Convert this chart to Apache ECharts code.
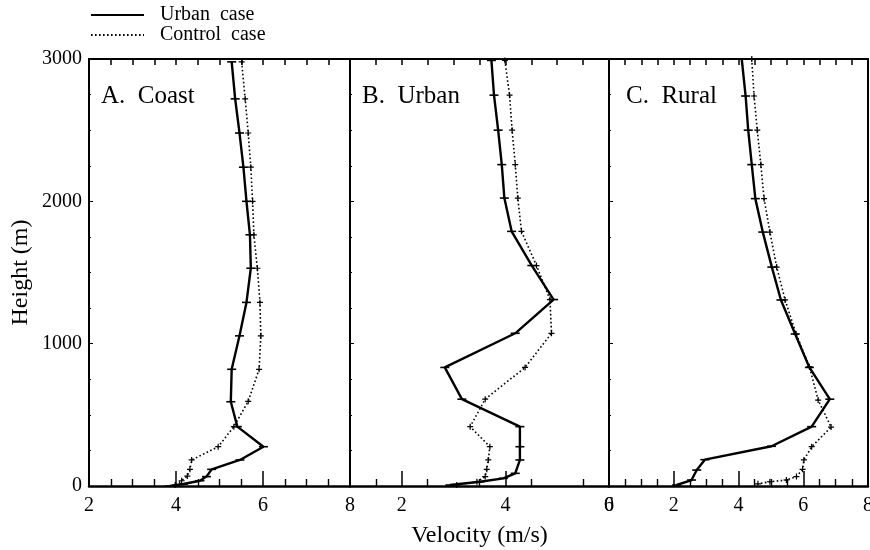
<!DOCTYPE html>
<html><head><meta charset="utf-8">
<script src="https://cdn.jsdelivr.net/npm/echarts@6/dist/echarts.min.js"></script>
<style>html,body{margin:0;padding:0;background:#fff}#c{width:870px;height:550px}</style>
</head><body><div id="c"></div><script>
// ---- data ----
const panelNames = ['A.  Coast', 'B.  Urban', 'C.  Rural'];
const panelMin = [2, 1, 0];
const panelMax = [8, 6, 8];
const panelInterval = [2, 1, 2];
const panelMinorSplit = [4, 2, 4];
const velocityLabels = [[2, 4, 6, 8], [2, 4, 6], [0, 2, 4, 6, 8]];
const velocityMajorTicks = [[2, 4, 6, 8], [2, 4, 6], [0, 2, 4, 6, 8]];
const heightTicks = [0, 1000, 2000, 3000];
const legendNames = ['Urban case', 'Control case'];

// [velocity (m/s), height (m)]
const coastUrban = [[5.28,2980],[5.36,2720],[5.46,2480],[5.55,2240],[5.62,2000],[5.70,1765],[5.72,1530],[5.62,1290],[5.46,1055],[5.28,820],[5.26,592],[5.41,417],[6.01,276],[5.47,183],[4.82,117],[4.70,66],[4.55,37],[4.17,14],[3.86,0]];
const coastControl = [[5.51,2980],[5.59,2720],[5.66,2480],[5.72,2240],[5.76,2000],[5.79,1765],[5.87,1530],[5.93,1290],[5.95,1055],[5.91,820],[5.66,595],[5.33,417],[4.97,276],[4.36,183],[4.32,117],[4.26,70],[4.13,37],[3.98,7]];
const urbanUrban = [[3.73,2990],[3.78,2746],[3.86,2500],[3.93,2258],[3.98,2023],[4.12,1789],[4.51,1549],[4.93,1310],[4.19,1073],[2.83,833],[3.16,610],[4.28,417],[4.28,276],[4.28,183],[4.19,89],[3.96,54],[3.51,30],[2.93,7]];
const urbanControl = [[3.99,2990],[4.08,2746],[4.13,2500],[4.19,2258],[4.24,2023],[4.31,1789],[4.60,1549],[4.86,1310],[4.89,1073],[4.38,833],[3.61,610],[3.32,417],[3.70,276],[3.67,183],[3.64,117],[3.61,66],[3.45,30],[3.06,7]];
const ruralUrban = [[4.10,3000],[4.22,2740],[4.30,2500],[4.41,2258],[4.52,2019],[4.75,1784],[5.03,1538],[5.31,1307],[5.75,1068],[6.19,833],[6.82,610],[6.26,417],[5.02,279],[2.96,185],[2.71,112],[2.55,42],[2.09,7]];
const ruralControl = [[4.41,3000],[4.48,2740],[4.58,2500],[4.69,2258],[4.79,2019],[4.97,1784],[5.18,1538],[5.44,1307],[5.78,1068],[6.19,838],[6.46,604],[6.86,414],[6.26,276],[6.02,183],[5.98,117],[5.79,66],[5.48,42],[4.97,30],[4.60,15]];

const urbanSeries = [coastUrban, urbanUrban, ruralUrban];
const controlSeries = [coastControl, urbanControl, ruralControl];

// ---- chart ----
const F = '"Liberation Serif", "Times New Roman", serif';
const K = '#000';
const gridPos = [[89, 261], [350, 259], [609, 259]];
const grid = gridPos.map(g => ({left: g[0], width: g[1], top: 59, height: 427, containLabel: false, outerBoundsMode: 'none'}));

const xAxis = [];
const yAxis = [];
const series = [];
const graphic = [];
const titleX = [101, 362, 626];

for (let i = 0; i < 3; i++) {
  xAxis.push({
    type: 'value', gridIndex: i, min: panelMin[i], max: panelMax[i], interval: panelInterval[i], position: 'bottom',
    name: i === 1 ? 'Velocity (m/s)' : '', nameLocation: 'middle', nameGap: 38,
    nameTextStyle: {fontFamily: F, fontSize: 24, color: K},
    axisLine: {show: true, onZero: false, lineStyle: {color: K, width: 2.5}},
    axisTick: {show: true, inside: true, length: 15, customValues: velocityMajorTicks[i], lineStyle: {color: K, width: 1.5}},
    minorTick: {show: true, splitNumber: panelMinorSplit[i], length: 7, lineStyle: {color: K, width: 1.4}},
    axisLabel: {customValues: velocityLabels[i], fontFamily: F, fontSize: 20, color: K, margin: 10},
    splitLine: {show: false}
  });
  xAxis.push({
    type: 'value', gridIndex: i, min: panelMin[i], max: panelMax[i], interval: 0.5, position: 'top',
    axisLine: {show: true, onZero: false, lineStyle: {color: K, width: 2}},
    axisTick: {show: true, inside: true, length: 6, lineStyle: {color: K, width: 1.5}},
    axisLabel: {show: false}, splitLine: {show: false}
  });
  yAxis.push({
    type: 'value', gridIndex: i, min: 0, max: 3000, interval: 1000, position: 'left',
    name: i === 0 ? 'Height (m)' : '', nameLocation: 'middle', nameGap: 56,
    nameTextStyle: {fontFamily: F, fontSize: 24, color: K},
    axisLine: {show: true, onZero: false, lineStyle: {color: K, width: 2}},
    axisTick: {show: true, inside: true, length: 4, lineStyle: {color: K}},
    minorTick: {show: true, splitNumber: 4, length: 2, lineStyle: {color: K}},
    axisLabel: i === 0 ? {customValues: heightTicks, formatter: v => String(v), fontFamily: F, fontSize: 20, color: K, margin: 7} : {show: false},
    splitLine: {show: false}
  });
  graphic.push({type: 'text', left: titleX[i], top: 84,
    style: {text: panelNames[i], font: '25px ' + F, fill: K}});
}
yAxis.push({
  type: 'value', gridIndex: 2, min: 0, max: 3000, interval: 1000, position: 'right',
  axisLine: {show: true, onZero: false, lineStyle: {color: K, width: 2}},
  axisTick: {show: true, inside: true, length: 4, lineStyle: {color: K}},
  axisLabel: {show: false}, splitLine: {show: false}
});

const plusPath = 'path://M2,0h1v2h2v1h-2v2h-1v-2h-2v-1h2z';
for (let i = 0; i < 3; i++) {
  series.push({
    type: 'line', name: legendNames[0], xAxisIndex: 2 * i, yAxisIndex: i,
    data: urbanSeries[i], symbol: 'rect', symbolSize: [9, 1.6],
    itemStyle: {color: K}, lineStyle: {color: K, width: 2.4, type: 'solid'},
    animation: false, z: 3
  });
  series.push({
    type: 'line', name: legendNames[1], xAxisIndex: 2 * i, yAxisIndex: i,
    data: controlSeries[i], symbol: plusPath, symbolSize: 6,
    itemStyle: {color: K}, lineStyle: {color: K, width: 1.6, type: [1.6, 2.4]},
    animation: false, z: 2
  });
}

const chart = echarts.init(document.getElementById('c'), null, {renderer: 'canvas'});
chart.setOption({
  animation: false,
  backgroundColor: '#fff',
  grid, xAxis, yAxis, series, graphic,
  legend: {
    data: legendNames, orient: 'vertical', left: 90, top: 5, padding: 0,
    itemWidth: 53, itemHeight: 20, itemGap: 0,
    itemStyle: {opacity: 0},
    textStyle: {fontFamily: F, fontSize: 20, color: K, padding: [0, 0, 0, 11]},
    formatter: n => n.replace(' ', '  '),
    selectedMode: false
  }
});
</script></body></html>
